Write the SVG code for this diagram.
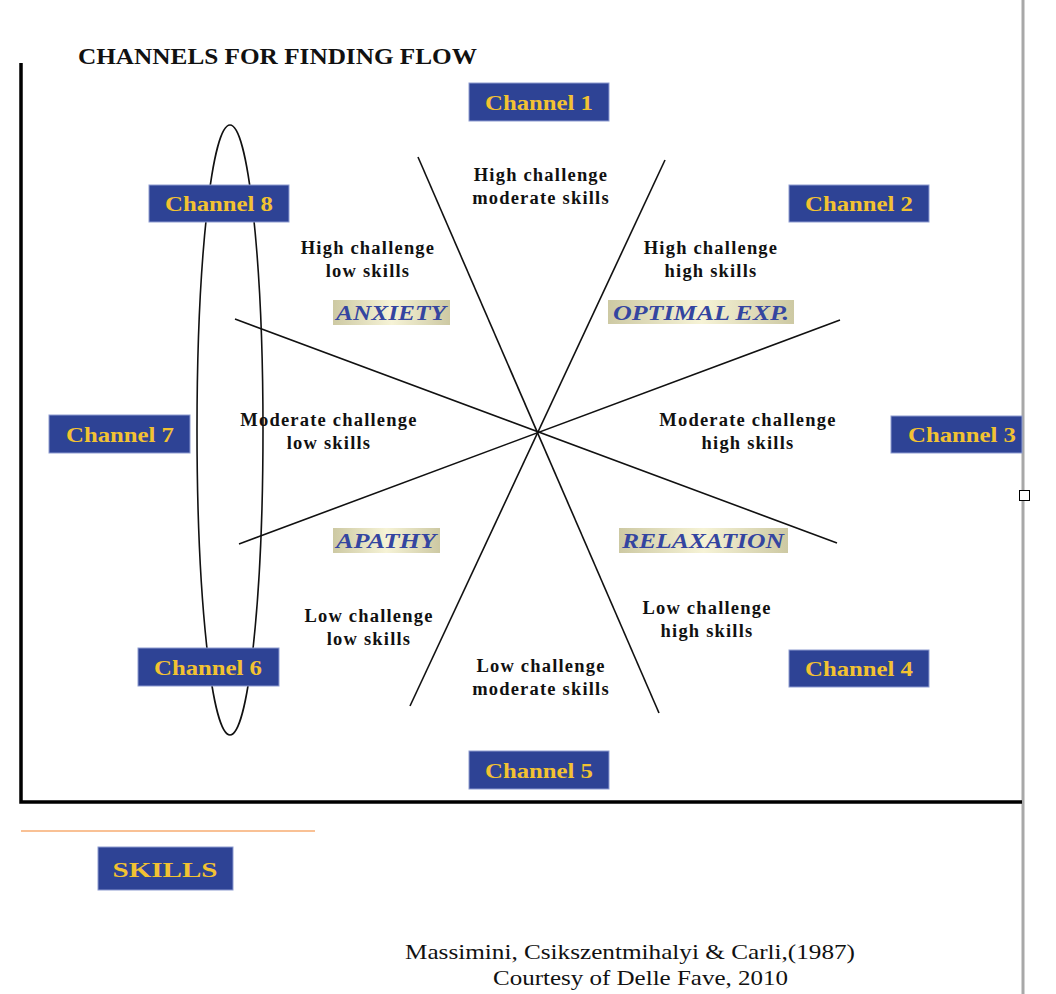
<svg xmlns="http://www.w3.org/2000/svg" width="1056" height="994" viewBox="0 0 1056 994">
<defs>
<linearGradient id="beige" x1="0" y1="0" x2="1" y2="0">
<stop offset="0" stop-color="#cdc9a3"/>
<stop offset="0.5" stop-color="#f6f3d6"/>
<stop offset="1" stop-color="#cdc9a3"/>
</linearGradient>
<style>
.ch rect{fill:#2e4395;stroke:#8d9bd0;stroke-width:1}
.ch text{font-family:"Liberation Serif","Times New Roman",serif;font-weight:bold;font-size:21px;fill:#f2c232;text-anchor:middle}
.lb{font-family:"Liberation Serif","Times New Roman",serif;font-weight:bold;font-size:18.5px;fill:#111;text-anchor:middle;letter-spacing:1.2px}
.st rect{fill:url(#beige)}
.st text{font-family:"Liberation Serif","Times New Roman",serif;font-weight:bold;font-style:italic;font-size:21px;fill:#3445a0;text-anchor:middle}
.cn line{stroke:#111;stroke-width:1.6}
.cit{font-family:"Liberation Serif","Times New Roman",serif;font-size:21px;fill:#111}
</style>
</defs>
<rect width="1056" height="994" fill="#fff"/>
<!-- page edge -->
<line x1="1023" y1="0" x2="1023" y2="994" stroke="#a8a8a8" stroke-width="3"/>
<rect x="1019.5" y="490.5" width="10" height="10" fill="#fff" stroke="#000" stroke-width="1"/>
<!-- axes -->
<polyline points="21,63 21,802 1022,802" fill="none" stroke="#000" stroke-width="3.5"/>
<line x1="21" y1="831" x2="315" y2="831" stroke="#f7ad72" stroke-width="1.5"/>
<text x="78" y="64" font-family="'Liberation Serif','Times New Roman',serif" font-weight="bold" font-size="23" fill="#111" textLength="399" lengthAdjust="spacingAndGlyphs">CHANNELS FOR FINDING FLOW</text>
<!-- connectors -->
<g id="connectors" class="cn">
<line x1="418" y1="157" x2="659" y2="713"/>
<line x1="665" y1="160" x2="410" y2="706"/>
<line x1="235" y1="319" x2="837" y2="543"/>
<line x1="239" y1="544" x2="840" y2="320"/>
</g>
<ellipse id="ellipse" cx="230" cy="430" rx="33" ry="305" fill="none" stroke="#111" stroke-width="1.6"/>
<!-- channel nodes -->
<g id="channel1" class="ch"><rect x="469" y="83" width="140" height="38"/><text x="539" y="110" textLength="108" lengthAdjust="spacingAndGlyphs">Channel 1</text></g>
<g id="channel2" class="ch"><rect x="789" y="185" width="140" height="37"/><text x="859" y="211" textLength="108" lengthAdjust="spacingAndGlyphs">Channel 2</text></g>
<g id="channel3" class="ch"><rect x="891" y="416" width="131" height="37"/><text x="962" y="442" textLength="108" lengthAdjust="spacingAndGlyphs">Channel 3</text></g>
<g id="channel4" class="ch"><rect x="789" y="650" width="140" height="37"/><text x="859" y="676" textLength="108" lengthAdjust="spacingAndGlyphs">Channel 4</text></g>
<g id="channel5" class="ch"><rect x="469" y="751" width="140" height="38"/><text x="539" y="778" textLength="108" lengthAdjust="spacingAndGlyphs">Channel 5</text></g>
<g id="channel6" class="ch"><rect x="138" y="648" width="141" height="38"/><text x="208" y="675" textLength="108" lengthAdjust="spacingAndGlyphs">Channel 6</text></g>
<g id="channel7" class="ch"><rect x="49" y="415" width="141" height="38"/><text x="120" y="442" textLength="108" lengthAdjust="spacingAndGlyphs">Channel 7</text></g>
<g id="channel8" class="ch"><rect x="149" y="185" width="140" height="37"/><text x="219" y="211" textLength="108" lengthAdjust="spacingAndGlyphs">Channel 8</text></g>
<g id="skills" class="ch"><rect x="98" y="847" width="135" height="43"/><text x="165" y="877" font-size="23" textLength="105" lengthAdjust="spacingAndGlyphs">SKILLS</text></g>
<!-- region labels -->
<g id="lbl-high-mod"><text class="lb" x="541" y="181">High challenge</text><text class="lb" x="541" y="204">moderate skills</text></g>
<g id="lbl-high-low"><text class="lb" x="368" y="254">High challenge</text><text class="lb" x="368" y="277">low skills</text></g>
<g id="lbl-high-high"><text class="lb" x="711" y="254">High challenge</text><text class="lb" x="711" y="277">high skills</text></g>
<g id="lbl-mod-low"><text class="lb" x="329" y="426">Moderate challenge</text><text class="lb" x="329" y="449">low skills</text></g>
<g id="lbl-mod-high"><text class="lb" x="748" y="426">Moderate challenge</text><text class="lb" x="748" y="449">high skills</text></g>
<g id="lbl-low-low"><text class="lb" x="369" y="622">Low challenge</text><text class="lb" x="369" y="645">low skills</text></g>
<g id="lbl-low-high"><text class="lb" x="707" y="614">Low challenge</text><text class="lb" x="707" y="637">high skills</text></g>
<g id="lbl-low-mod"><text class="lb" x="541" y="672">Low challenge</text><text class="lb" x="541" y="695">moderate skills</text></g>
<!-- state labels -->
<g id="anxiety" class="st"><rect x="333" y="300" width="117" height="25"/><text x="391" y="320" textLength="110" lengthAdjust="spacingAndGlyphs">ANXIETY</text></g>
<g id="optimal" class="st"><rect x="608" y="300" width="186" height="24"/><text x="701" y="320" textLength="176" lengthAdjust="spacingAndGlyphs">OPTIMAL EXP.</text></g>
<g id="apathy" class="st"><rect x="333" y="528" width="107" height="25"/><text x="386" y="548" textLength="100" lengthAdjust="spacingAndGlyphs">APATHY</text></g>
<g id="relaxation" class="st"><rect x="619" y="528" width="169" height="25"/><text x="703" y="548" textLength="162" lengthAdjust="spacingAndGlyphs">RELAXATION</text></g>
<!-- citation -->
<text class="cit" x="405" y="959" textLength="450" lengthAdjust="spacingAndGlyphs">Massimini, Csikszentmihalyi &amp; Carli,(1987)</text>
<text class="cit" x="493" y="985" textLength="295" lengthAdjust="spacingAndGlyphs">Courtesy of Delle Fave, 2010</text>
</svg>
